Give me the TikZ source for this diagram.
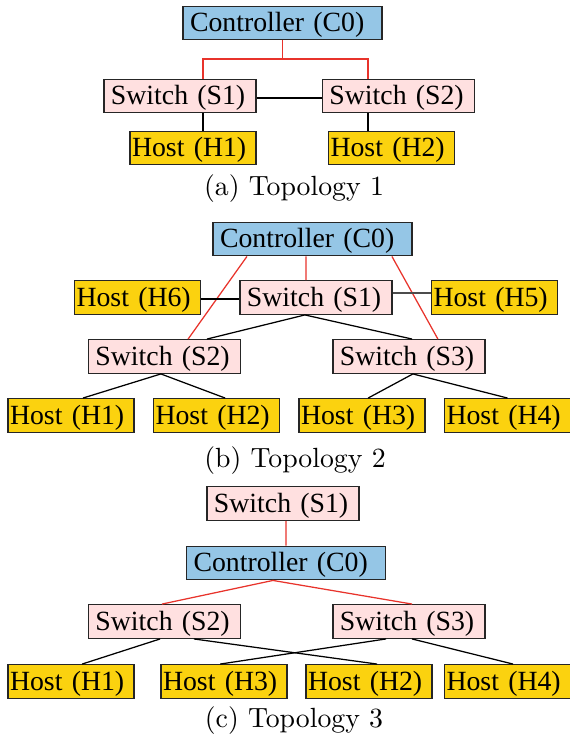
\documentclass[tikz,border=0pt]{standalone}
\usepackage{fontspec}
\newfontfamily\netfont{Liberation Serif}
\definecolor{ctrlblue}{HTML}{95C6E6}
\definecolor{swpink}{HTML}{FFE0E0}
\definecolor{hostgold}{HTML}{FBD20F}
\definecolor{ctlred}{HTML}{E8332B}
\tikzset{
  unitbox/.style={draw=black!85, line width=0.5pt, inner ysep=0pt,
    minimum height=12.06pt, text height=7pt, text depth=0.6pt,
    align=left, font=\netfont},
  ctrlbox/.style={unitbox, fill=ctrlblue, inner xsep=2.5pt, text width=66.6pt},
  swbox/.style={unitbox, fill=swpink, inner xsep=2.5pt, text width=49.7pt},
  hostbox/.style={unitbox, fill=hostgold, inner xsep=0.7pt, text width=43.9pt},
  ctl/.style={draw=ctlred, line width=0.45pt},
  lnk/.style={draw=black, line width=0.45pt},
  subcap/.style={anchor=base}
}
\begin{document}
\begin{tikzpicture}[x=0.36pt, y=-0.36pt]
\useasboundingbox (0,0) rectangle (570,741);

% ---------- Topology 1 ----------
\node[ctrlbox] (c0a) at (282.5,23) {Controller (C0)};
\node[swbox]   (s1a) at (180,96)   {Switch (S1)};
\node[swbox]   (s2a) at (398.5,96) {Switch (S2)};
\node[hostbox] (h1a) at (193,148)  {Host (H1)};
\node[hostbox] (h2a) at (391.5,148) {Host (H2)};
\coordinate (ja) at (282.5,59);
\draw[ctl] (c0a.south) -- (ja);
\draw[ctl] ([xshift=8.3pt]s1a.north) |- (ja) -| ([xshift=-11pt]s2a.north);
\draw[lnk] ([yshift=-0.7pt]s1a.east) -- ([yshift=-0.7pt]s2a.west);
\draw[lnk] ([xshift=8.3pt]s1a.south) -- ([xshift=8.3pt]s1a.south |- h1a.north);
\draw[lnk] ([xshift=-11pt]s2a.south) -- ([xshift=-11pt]s2a.south |- h2a.north);
\node[subcap] (capa) at (294,196) {(a) Topology 1};

% ---------- Topology 2 ----------
\node[ctrlbox] (c0b) at (312.5,239)   {Controller (C0)};
\node[hostbox] (h6b) at (137.5,297.5) {Host (H6)};
\node[swbox]   (s1b) at (316,297.5)   {Switch (S1)};
\node[hostbox] (h5b) at (494.5,297.5) {Host (H5)};
\node[swbox]   (s2b) at (164.5,356.5) {Switch (S2)};
\node[swbox]   (s3b) at (409,356.5)   {Switch (S3)};
\node[hostbox] (h1b) at (71,415.5)    {Host (H1)};
\node[hostbox] (h2b) at (216.5,415.5) {Host (H2)};
\node[hostbox] (h3b) at (362,415.5)   {Host (H3)};
\node[hostbox] (h4b) at (507.5,415.5) {Host (H4)};
\draw[ctl] ([xshift=-2.3pt]c0b.south) -- ([xshift=-3.6pt]s1b.north);
\draw[ctl] ([xshift=-23.6pt]c0b.south) -- ([xshift=8.5pt]s2b.north);
\draw[ctl] ([xshift=28.6pt]c0b.south) -- ([xshift=10.4pt]s3b.north);
\draw[lnk] ([yshift=-0.5pt]h6b.east) -- ([yshift=-0.5pt]s1b.west);
\draw[lnk, draw=black!70, line width=0.7pt] ([yshift=1.6pt]s1b.east) -- ([yshift=1.6pt]h5b.west);
\draw[lnk] ([xshift=-4pt]s1b.south) -- ([xshift=15.3pt]s2b.north);
\draw[lnk] ([xshift=-4pt]s1b.south) -- ([xshift=1.1pt]s3b.north);
\draw[lnk] ([xshift=-1.3pt]s2b.south) -- ([xshift=4.3pt]h1b.north);
\draw[lnk] ([xshift=-1.3pt]s2b.south) -- ([xshift=3.1pt]h2b.north);
\draw[lnk] ([xshift=1.4pt]s3b.south) -- ([xshift=2.2pt]h3b.north);
\draw[lnk] ([xshift=1.4pt]s3b.south) -- (h4b.north);
\node[subcap] (capb) at (295,467) {(b) Topology 2};

% ---------- Topology 3 ----------
\node[swbox]   (s1c) at (283,503.5)   {Switch (S1)};
\node[ctrlbox] (c0c) at (286,563)     {Controller (C0)};
\node[swbox]   (s2c) at (164.5,621.5) {Switch (S2)};
\node[swbox]   (s3c) at (409,621.5)   {Switch (S3)};
\node[hostbox] (h1c) at (71,681.5)    {Host (H1)};
\node[hostbox] (h3c) at (224,681.5)   {Host (H3)};
\node[hostbox] (h2c) at (369,681.5)   {Host (H2)};
\node[hostbox] (h4c) at (507.5,681.5) {Host (H4)};
\draw[ctl] ([xshift=1.1pt]s1c.south) -- (c0c.north);
\draw[ctl] ([xshift=-4.7pt]c0c.south) -- ([xshift=-0.9pt]s2c.north);
\draw[ctl] ([xshift=-4.7pt]c0c.south) -- ([xshift=1.1pt]s3c.north);
\draw[lnk] ([xshift=-1.6pt]s2c.south) -- ([xshift=4pt]h1c.north);
\draw[lnk] ([xshift=10.6pt]s2c.south) -- ([xshift=2.9pt]h2c.north);
\draw[lnk] ([xshift=-8.3pt]s3c.south) -- ([xshift=-1.4pt]h3c.north);
\draw[lnk] ([xshift=1.1pt]s3c.south) -- ([xshift=2pt]h4c.north);
\node[subcap] (capc) at (294,727) {(c) Topology 3};
\end{tikzpicture}
\end{document}
